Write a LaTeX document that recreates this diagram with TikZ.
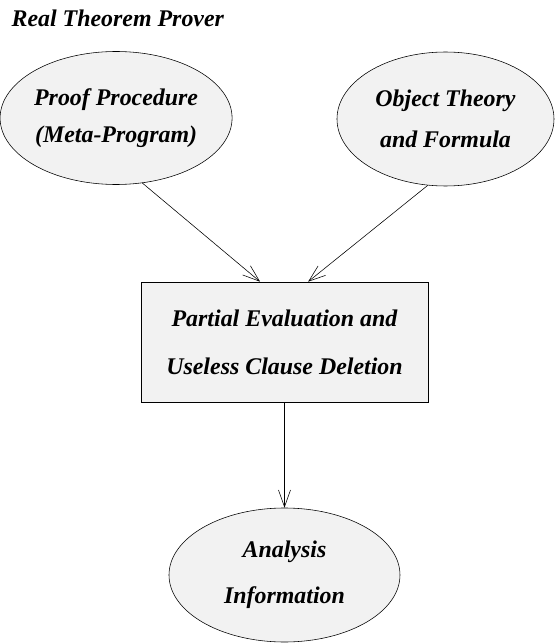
\documentclass[tikz,border=0pt]{standalone}
\usepackage{fontspec}
\setmainfont{Liberation Serif}
\usetikzlibrary{shapes,arrows.meta,positioning}

\begin{document}
\begin{tikzpicture}[node distance = 5.825cm, auto]
    \tikzstyle{block} = [rectangle, draw, fill=gray!10, align=center, minimum width=7.175cm, minimum height=3cm, inner sep=0pt, font=\fontsize{17}{26}\selectfont\bfseries\itshape]
    \tikzstyle{cloud} = [draw, ellipse, fill=gray!10, align=center, inner sep=0pt, minimum width=5.8cm, minimum height=3.35cm, font=\fontsize{17}{26}\selectfont\bfseries\itshape]
    \tikzstyle{line} = [draw, thin, -{Straight Barb[length=0.42cm,width=0.3cm]}]
    \useasboundingbox (-7.1125,-7.525) rectangle (6.7875,8.55);

    \node [anchor=west, inner sep=0pt, font=\fontsize{17}{20}\selectfont\bfseries\itshape] (title) at (-6.83,8.1) {Real Theorem Prover};
    \node [block] (partial evaluation) {Partial Evaluation and \\[8pt] Useless Clause Deletion};
    \node [cloud, minimum width=5.8cm, minimum height=3.325cm] (proof procedure) at (-4.21,5.6) {Proof Procedure \\ (Meta-Program)};
    \node [cloud, minimum width=5.425cm] (object theory) at (4.025,5.575) {Object Theory \\[3pt] and Formula};
    \node [cloud, below of=partial evaluation, minimum width=5.775cm] (analysis information) {Analysis \\[7pt] Information};

    \path [line] (proof procedure.-68) -- ([xshift=-0.61cm]partial evaluation.north);
    \path [line] (object theory.-105) -- ([xshift=0.59cm]partial evaluation.north);
    \path [line] (partial evaluation) -- (analysis information);
\end{tikzpicture}
\end{document}
